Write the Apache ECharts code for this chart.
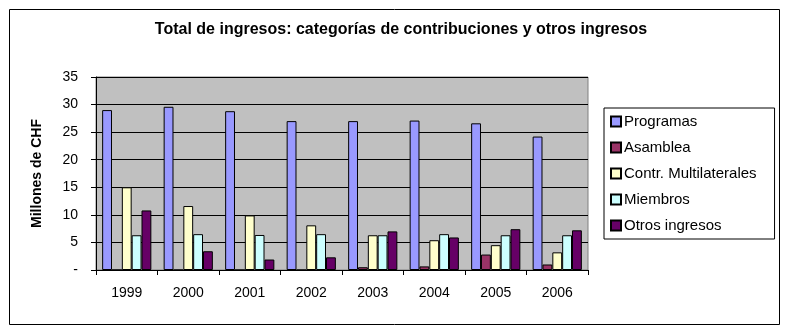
<!DOCTYPE html>
<html><head><meta charset="utf-8">
<script src="https://cdn.jsdelivr.net/npm/echarts@6/dist/echarts.min.js"></script>
<style>html,body{margin:0;padding:0;background:#fff}#c{width:788px;height:332px}</style>
</head><body><div id="c"></div>
<script>
var years = ['1999','2000','2001','2002','2003','2004','2005','2006'];
var programas = [29.0, 29.6, 28.8, 27.0, 27.0, 27.1, 26.6, 24.2];
var asamblea = [0, 0, 0, 0, 0.5, 0.65, 2.8, 1.0];
var contrMulti = [15.0, 11.6, 9.9, 8.1, 6.3, 5.4, 4.5, 3.2];
var miembros = [6.3, 6.5, 6.35, 6.5, 6.3, 6.5, 6.3, 6.3];
var otros = [10.8, 3.4, 1.9, 2.3, 7.0, 5.9, 7.4, 7.2];
var seriesNames = ['Programas','Asamblea','Contr. Multilaterales','Miembros','Otros ingresos'];
var seriesColors = ['#9999FF','#993366','#FFFFCC','#CCFFFF','#660066'];
var seriesData = [programas, asamblea, contrMulti, miembros, otros];

var font = '"Liberation Sans", Arial, sans-serif';
var chart = echarts.init(document.getElementById('c'), null, {renderer:'canvas'});
chart.setOption({
  animation: false,
  backgroundColor: '#fff',
  textStyle: {fontFamily: font},
  title: {
    text: 'Total de ingresos: categorías de contribuciones y otros ingresos',
    left: 396, top: 17, textAlign: 'center',
    textStyle: {fontFamily: font, fontSize: 16, fontWeight: 'bold', color: '#000'}
  },
  graphic: [{
    type: 'rect', shape: {x: 9.5, y: 9.5, width: 770, height: 315},
    style: {fill: 'none', stroke: '#000', lineWidth: 1}, z: -1
  }],
  legend: {
    orient: 'vertical', left: 604, top: 108,
    padding: [6, 18, 6, 6], itemGap: 11,
    borderColor: '#000', borderWidth: 1,
    itemWidth: 10, itemHeight: 10, icon: 'rect',
    textStyle: {fontFamily: font, fontSize: 15, color: '#000', padding: [0,0,0,-2]},
    data: seriesNames
  },
  grid: {left: 96, right: 200, top: 77, bottom: 62, show: true,
         backgroundColor: '#C0C0C0', borderColor: '#808080', borderWidth: 1},
  xAxis: {
    type: 'category', data: years,
    axisLine: {lineStyle: {color: '#000', width: 1}},
    axisTick: {show: true, length: 5, lineStyle: {color: '#000'}},
    axisLabel: {color: '#000', fontSize: 14, fontFamily: font, margin: 16}
  },
  yAxis: {
    type: 'value', min: 0, max: 35, interval: 5,
    name: 'Millones de CHF', nameLocation: 'middle', nameGap: 52,
    nameTextStyle: {fontFamily: font, fontSize: 14, fontWeight: 'bold', color: '#000'},
    axisLine: {show: true, lineStyle: {color: '#000', width: 1}},
    axisTick: {show: true, length: 5, inside: false, lineStyle: {color: '#000'}},
    axisLabel: {color: '#000', fontSize: 14, fontFamily: font, margin: 18,
      formatter: function(v){ return v === 0 ? '-' : String(v); }},
    splitLine: {show: true, lineStyle: {color: '#000', width: 1}}
  },
  series: seriesData.map(function(d, i){
    return {
      name: seriesNames[i], type: 'bar', data: d,
      barGap: '0%', barCategoryGap: '20%',
      itemStyle: {color: seriesColors[i], borderColor: '#000', borderWidth: 1},
      emphasis: {disabled: true}
    };
  })
});
</script></body></html>
